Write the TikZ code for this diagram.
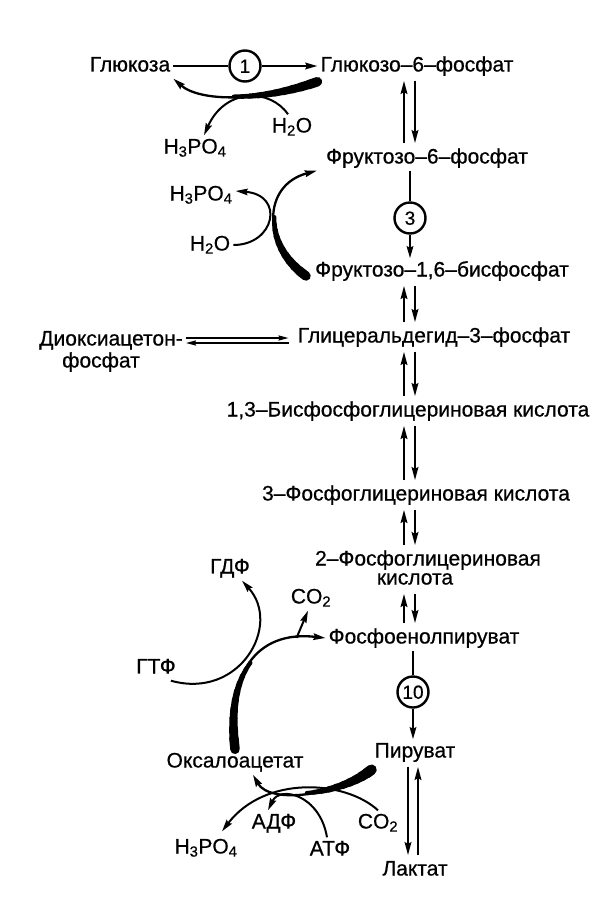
\documentclass[tikz,border=0pt]{standalone}
\usepackage{fontspec}
\setmainfont{Liberation Sans}[FakeBold=0.6]
\usetikzlibrary{arrows.meta}

\begin{document}
\begin{tikzpicture}[x=1pt, y=-1pt,
  every node/.style={font=\fontsize{21}{23}\selectfont, inner sep=3pt, text height=15pt, text depth=4pt},
  enz/.style={circle, draw, line width=2.4pt, minimum size=31pt, inner sep=0pt, text height=13.5pt, text depth=0pt, font=\fontsize{19}{19}\selectfont},
  tip/.style={line width=2.3pt, -{Stealth[length=12pt, width=6.5pt, inset=1.5pt]}},
  side/.style={line width=2pt, -{Stealth[length=12pt, width=6.5pt, inset=1.5pt]}},
  pair/.style={line width=2.5pt, shorten <=2pt, shorten >=2pt, -{Stealth[length=13pt, width=6.5pt, inset=1.5pt]}},
  dbl/.style={line width=1.7pt, -{Stealth[length=10pt, width=5pt, inset=1pt]}}]

        \fill[white] (0,0) rectangle (609,911);
        \useasboundingbox (0,0) rectangle (609,911);

        \node (glc) at (130,66) {Глюкоза};
        \node[enz] (e1) at (245,66) {1};
        \node (g6p) at (417,66) {Глюкозо--6--фосфат};
        \node (h2oA) at (292,127) {H\textsubscript{2}O};
        \node (h3poA) at (195,148) {H\textsubscript{3}PO\textsubscript{4}};
        \node (f6p) at (427,158) {Фруктозо--6--фосфат};
        \node (h3poB) at (201,195) {H\textsubscript{3}PO\textsubscript{4}};
        \node (h2oB) at (210,245) {H\textsubscript{2}O};
        \node[enz] (e3) at (410,218) {3};
        \node (f16bp) at (442,271) {Фруктозо--1,6--бисфосфат};
        \node (dhap) at (111,340) {Диоксиацетон-};
        \node (dhapb) at (101,362) {фосфат};
        \node (gap) at (434,337) {Глицеральдегид--3--фосфат};
        \node (bpg) at (408,411) {1,3--Бисфосфоглицериновая кислота};
        \node (pg3) at (416,495) {3--Фосфоглицериновая кислота};
        \node (pg2) at (428,560) {2--Фосфоглицериновая};
        \node (pg2b) at (415,579) {кислота};
        \node (pep) at (424,638) {Фосфоенолпируват};
        \node[enz] (e10) at (413,692) {10};
        \node (pyr) at (415,752) {Пируват};
        \node (lac) at (415,870) {Лактат};
        \node (oaa) at (235,762) {Оксалоацетат};
        \node (gdp) at (230,568) {ГДФ};
        \node (co2a) at (311,598) {CO\textsubscript{2}};
        \node (gtp) at (156,668) {ГТФ};
        \node (h3poC) at (206,848) {H\textsubscript{3}PO\textsubscript{4}};
        \node (adp) at (274,823) {АДФ};
        \node (atp) at (330,850) {АТФ};
        \node (co2b) at (378,823) {CO\textsubscript{2}};

        % main chain
        \draw[line width=2.3pt] (glc) -- (e1);
        \draw[tip] (e1) -- (g6p);
        \draw[line width=2.3pt] (f6p.south -| e3) -- (e3);
        \draw[tip] (e3) -- (e3 |- f16bp.north);
        \draw[line width=2.3pt] (pep.south -| e10) -- (e10);
        \draw[tip] (e10) -- (e10 |- pyr.north);

        \draw[pair] (404,0 |- f6p.north) -- (404,0 |- g6p.south);
        \draw[pair] (415,0 |- g6p.south) -- (415,0 |- f6p.north);
        \draw[pair] (404,0 |- gap.north) -- (404,0 |- f16bp.south);
        \draw[pair] (415,0 |- f16bp.south) -- (415,0 |- gap.north);
        \draw[pair] (404,0 |- bpg.north) -- (404,0 |- gap.south);
        \draw[pair] (415,0 |- gap.south) -- (415,0 |- bpg.north);
        \draw[pair] (404,0 |- pg3.north) -- (404,0 |- bpg.south);
        \draw[pair] (415,0 |- bpg.south) -- (415,0 |- pg3.north);
        \draw[pair] (404,0 |- pg2.north) -- (404,0 |- pg3.south);
        \draw[pair] (415,0 |- pg3.south) -- (415,0 |- pg2.north);
        \draw[pair] (404,0 |- pep.north) -- (404,0 |- pg2b.south);
        \draw[pair] (415,0 |- pg2b.south) -- (415,0 |- pep.north);
        \draw[pair] (408,0 |- pyr.south) -- (408,0 |- lac.north);
        \draw[pair] (418,0 |- lac.north) -- (418,0 |- pyr.south);

        \draw[dbl] ([yshift=2pt]dhap.east) -- ([xshift=-6pt,yshift=-1pt]gap.west);
        \draw[dbl] ([xshift=-6pt,yshift=-6pt]gap.west) -- ([yshift=-3pt]dhap.east);

        % glucose-6-phosphatase
        \draw[tip] ([yshift=-3pt]g6p.south west) .. controls (260,102) and (200,102) .. (glc.south east)
          foreach \k [evaluate=\k as \t using \k/20] in {0,...,10} {coordinate[pos=\t] (ta\k)};
        \foreach \i [count=\j from 1, evaluate=\i as \w using 9.5-0.6*\i] in {0,...,9}
          \draw[line width=\w pt, line cap=round] (ta\i) -- (ta\j);
        \draw[side] ([xshift=-4pt]h2oA.north) .. controls (270,88) and (225,88) .. ([xshift=9pt]h3poA.north);

        % fructose-1,6-bisphosphatase
        \draw[tip] ([xshift=-6pt,yshift=-5pt]f16bp.west) .. controls (262,245) and (262,185) .. ([xshift=-6pt]f6p.south west)
          foreach \k [evaluate=\k as \t using \k/20] in {0,...,10} {coordinate[pos=\t] (tb\k)};
        \foreach \i [count=\j from 1, evaluate=\i as \w using 9.5-0.6*\i] in {0,...,9}
          \draw[line width=\w pt, line cap=round] (tb\i) -- (tb\j);
        \draw[side] (h2oB.east) .. controls (275,245) and (285,195) .. ([yshift=4pt]h3poB.east);

        % PEP carboxykinase
        \draw[tip] (oaa.north) .. controls (226,675) and (255,630) .. (pep.west)
          coordinate[pos=.85] (co2src)
          foreach \k [evaluate=\k as \t using \k/20] in {0,...,10} {coordinate[pos=\t] (tc\k)};
        \foreach \i [count=\j from 1, evaluate=\i as \w using 9.5-0.6*\i] in {0,...,9}
          \draw[line width=\w pt, line cap=round] (tc\i) -- (tc\j);
        \draw[side] ([xshift=-8pt]gtp.south east) .. controls (240,700) and (282,625) .. ([xshift=12pt]gdp.south);
        \draw[side] (co2src) -- ([xshift=-3pt]co2a.south);

        % pyruvate carboxylase
        \draw[tip] ([yshift=-5pt]pyr.south west) .. controls (340,795) and (270,805) .. ([xshift=18pt]oaa.south)
          foreach \k [evaluate=\k as \t using \k/20] in {0,...,10} {coordinate[pos=\t] (td\k)};
        \foreach \i [count=\j from 1, evaluate=\i as \w using 10.5-0.7*\i] in {0,...,9}
          \draw[line width=\w pt, line cap=round] (td\i) -- (td\j);
        \draw[side] ([xshift=-3pt]atp.north) .. controls (320,795) and (280,785) .. ([xshift=-6pt]adp.north);
        \draw[side] (co2b.north) .. controls (345,780) and (265,775) .. ([xshift=16pt,yshift=4pt]h3poC.north);

    \end{tikzpicture}
\end{document}
